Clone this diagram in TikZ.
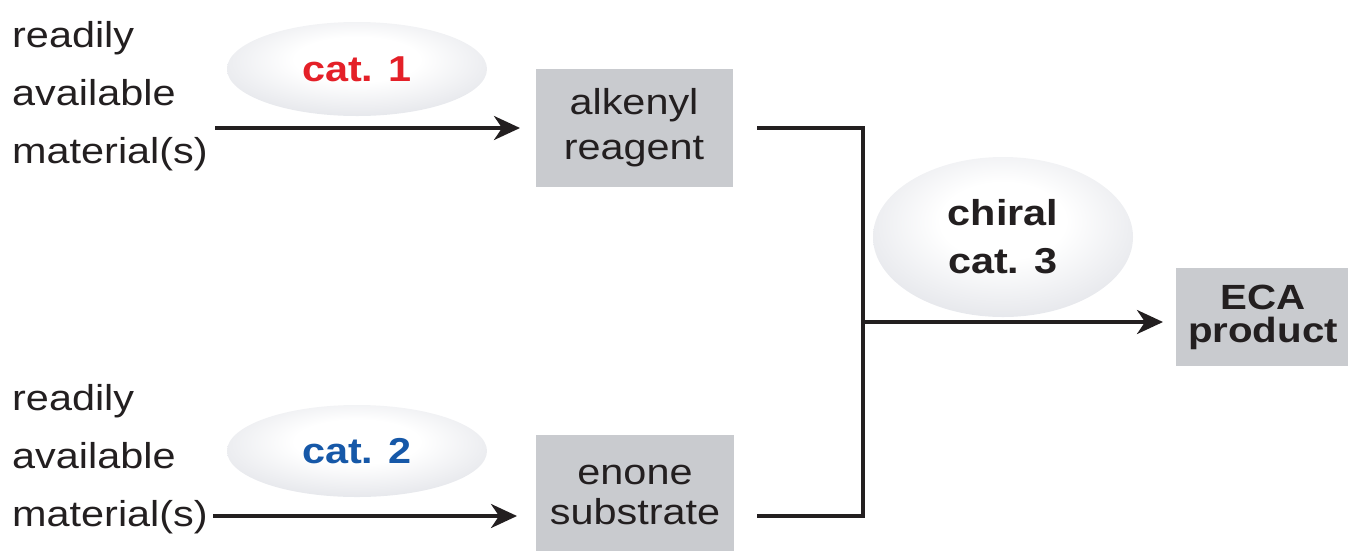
\documentclass[tikz,border=0pt]{standalone}
\usepackage{fontspec}
\setmainfont{Liberation Sans}[FakeStretch=1.15]
\usetikzlibrary{arrows.meta,shapes.geometric}
\definecolor{boxgray}{RGB}{201,203,207}
\definecolor{elledge}{RGB}{172,176,185}
\definecolor{ellmid}{RGB}{220,222,228}
\definecolor{catred}{RGB}{228,32,40}
\definecolor{catblue}{RGB}{22,88,168}
\definecolor{ink}{RGB}{35,31,32}
\pgfdeclareradialshading{ellshade}{\pgfpoint{0bp}{6bp}}{color(0bp)=(white); color(12bp)=(white); color(36bp)=(ellmid); color(52bp)=(elledge); color(75bp)=(elledge)}
\tikzset{
  plain/.style={font=\fontsize{36}{58}\selectfont, text=ink, inner sep=0pt, align=left},
  graybox/.style={rectangle, fill=boxgray, inner sep=0pt, align=center, text=ink},
  catell/.style={ellipse, shading=ellshade, inner sep=0pt, align=center, font=\bfseries\fontsize{36}{48}\selectfont},
  conn/.style={draw=ink, line width=3.4pt},
  arr/.style={conn, -{Stealth[length=26pt,width=24pt,inset=8pt]}}
}
\begin{document}
\begin{tikzpicture}[x=1pt,y=-1pt]
\useasboundingbox (0,0) rectangle (1348,550);
% left texts
\node[plain, anchor=north west] (rm1) at (12,21) {readily\\available\\material(s)};
\node[plain, anchor=north west] (rm2) at (12,384) {readily\\available\\material(s)};
% catalysts
\node[catell, minimum width=260pt, minimum height=94pt, text=catred] (cat1) at (357,69) {cat. 1};
\node[catell, minimum width=260pt, minimum height=92pt, text=catblue] (cat2) at (357,451) {cat. 2};
\node[catell, minimum width=260pt, minimum height=160pt, text=ink] (cat3) at (1003,237) {chiral\\cat. 3};
% boxes
\node[graybox, minimum width=197pt, minimum height=118pt, font=\fontsize{36}{45}\selectfont] (alk) at (634,128) {alkenyl\\reagent};
\node[graybox, minimum width=198pt, minimum height=120pt, font=\fontsize{36}{40}\selectfont] (eno) at (635,495) {enone\\substrate};
\node[graybox, minimum width=174pt, minimum height=98pt, font=\bfseries\fontsize{35}{33}\selectfont] (eca) at (1263,317) {ECA\\product};
% connector points
\coordinate (s1) at (215,128);
\coordinate (s2) at (213,516);
\coordinate (t1) at (520,128);
\coordinate (t2) at (517,516);
\coordinate (b1) at (757,128);
\coordinate (b2) at (757,516);
\coordinate (jt) at (863,128);
\coordinate (jb) at (863,516);
\coordinate (jm) at (863,322);
\coordinate (t3) at (1163,322);
% connectors
\draw[arr] (s1) -- (t1);
\draw[arr] (s2) -- (t2);
\draw[conn] (b1) -- (jt) -- (jb) -- (b2);
\draw[arr] (jm) -- (t3);
\end{tikzpicture}
\end{document}
